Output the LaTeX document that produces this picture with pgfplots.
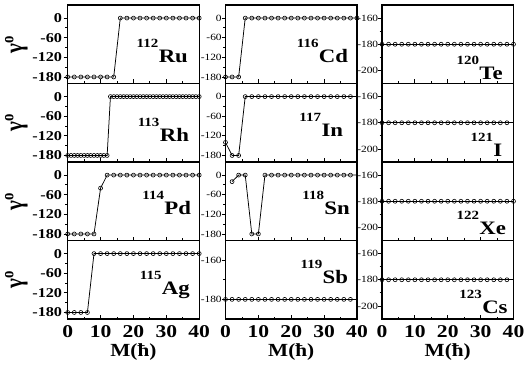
\documentclass[border=0pt]{standalone}
\usepackage{pgfplots}
\pgfplotsset{compat=1.18}
\usepackage{fontspec}
\setmainfont{Liberation Serif}
\newcommand{\lab}[2]{\raisebox{15pt}{\fontsize{12.5}{12.5}\selectfont #1}\kern0.3pt #2}
\pgfplotsset{
  pl/.style={black, line width=0.75pt, mark=o, mark size=2pt, mark options={solid, line width=0.6pt}},
  base/.style={
    scale only axis, width=131.5pt, height=78.5pt, anchor=south west,
    xmin=0, xmax=40, xtick={0,10,20,30,40}, minor x tick num=1,
    xtick pos=left, ytick pos=left, tick align=inside,
    major tick length=4pt, minor tick length=2.5pt,
    every major y tick/.append style={xshift=-4pt},
    every minor y tick/.append style={xshift=-2.5pt},
    axis line style={line width=1.3pt},
    every tick/.append style={black, line width=0.8pt},
    xticklabels={},
    clip=false,
  },
  c1/.style={base, ymin=-200, ymax=40, ytick={-180,-120,-60,0}, yticklabels={-180,-120,-60,0}, minor y tick num=1,
    yticklabel style={font=\bfseries\fontsize{13.5}{13.5}\selectfont, xscale=1.2, inner sep=0pt, xshift=-4.5pt}},
  c2/.style={base, ymin=-200, ymax=40, ytick={-180,-120,-60,0}, yticklabels={-180,-120,-60,0}, minor y tick num=1,
    yticklabel style={font=\fontsize{9.5}{9.5}\selectfont, xscale=1.2, inner sep=0pt, xshift=-3pt}},
  c2b/.style={base, ymin=-190, ymax=-150, ytick={-180,-160}, yticklabels={-180,-160}, minor y tick num=1,
    yticklabel style={font=\fontsize{9.5}{9.5}\selectfont, xscale=1.2, inner sep=0pt, xshift=-3pt}},
  c3/.style={base, ymin=-210, ymax=-150, ytick={-200,-180,-160}, yticklabels={-200,-180,-160}, minor y tick num=1,
    yticklabel style={font=\fontsize{9.5}{9.5}\selectfont, xscale=1.2, inner sep=0pt, xshift=-3pt}},
  bot/.style={xticklabels={0,10,20,30,40}, xticklabel style={font=\bfseries\fontsize{18}{18}\selectfont, xscale=1.2, inner sep=0pt, yshift=-6pt}},
}
\tikzset{
  nuc/.style={anchor=base east, font=\bfseries\fontsize{19}{19}\selectfont, xscale=1.2, inner sep=0pt},
  gam/.style={rotate=90, yscale=1.2, font=\bfseries\fontsize{21}{21}\selectfont, inner sep=0pt},
  mlab/.style={font=\bfseries\fontsize{18.5}{18.5}\selectfont, xscale=1.15, inner sep=0pt},
}
\begin{document}
\begin{tikzpicture}
\useasboundingbox (0pt,0pt) rectangle (524pt,367pt);
% ---------- column 1 ----------
\begin{axis}[c1, at={(67.7pt,283.5pt)}]
\addplot[pl] coordinates {(0,-180) (2,-180) (4,-180) (6,-180) (8,-180) (10,-180) (12,-180) (14,-180) (16,0) (18,0) (20,0) (22,0) (24,0) (26,0) (28,0) (30,0) (32,0) (34,0) (36,0) (38,0) (40,0)};
\node[nuc] at (rel axis cs:0.916,0.265) {\lab{112}{Ru}};
\node[gam] at (rel axis cs:-0.39,0.5) {γ\textsuperscript{o}};
\end{axis}
\begin{axis}[c1, at={(67.7pt,205pt)}]
\addplot[pl] coordinates {(0,-180) (1,-180) (2,-180) (3,-180) (4,-180) (5,-180) (6,-180) (7,-180) (8,-180) (9,-180) (10,-180) (11,-180) (12,-180) (13,0) (14,0) (15,0) (16,0) (17,0) (18,0) (19,0) (20,0) (21,0) (22,0) (23,0) (24,0) (25,0) (26,0) (27,0) (28,0) (29,0) (30,0) (31,0) (32,0) (33,0) (34,0) (35,0) (36,0) (37,0) (38,0) (39,0) (40,0)};
\node[nuc] at (rel axis cs:0.924,0.259) {\lab{113}{Rh}};
\node[gam] at (rel axis cs:-0.39,0.5) {γ\textsuperscript{o}};
\end{axis}
\begin{axis}[c1, at={(67.7pt,126.5pt)}]
\addplot[pl] coordinates {(0,-180) (2,-180) (4,-180) (6,-180) (8,-180) (10,-40) (12,0) (14,0) (16,0) (18,0) (20,0) (22,0) (24,0) (26,0) (28,0) (30,0) (32,0) (34,0) (36,0) (38,0) (40,0)};
\node[nuc] at (rel axis cs:0.94,0.325) {\lab{114}{Pd}};
\node[gam] at (rel axis cs:-0.39,0.5) {γ\textsuperscript{o}};
\end{axis}
\begin{axis}[c1, bot, at={(67.7pt,48pt)}]
\addplot[pl] coordinates {(0,-180) (2,-180) (4,-180) (6,-180) (8,0) (10,0) (12,0) (14,0) (16,0) (18,0) (20,0) (22,0) (24,0) (26,0) (28,0) (30,0) (32,0) (34,0) (36,0) (38,0) (40,0)};
\node[nuc] at (rel axis cs:0.93,0.306) {\lab{115}{Ag}};
\node[gam] at (rel axis cs:-0.39,0.5) {γ\textsuperscript{o}};
\node[mlab] at (rel axis cs:0.5,-0.42) {M(ħ)};
\end{axis}
% ---------- column 2 ----------
\begin{axis}[c2, at={(225.5pt,283.5pt)}]
\addplot[pl] coordinates {(0,-180) (2,-180) (4,-180) (6,0) (8,0) (10,0) (12,0) (14,0) (16,0) (18,0) (20,0) (22,0) (24,0) (26,0) (28,0) (30,0) (32,0) (34,0) (36,0) (38,0) (40,0)};
\node[nuc] at (rel axis cs:0.934,0.265) {\lab{116}{Cd}};
\end{axis}
\begin{axis}[c2, at={(225.5pt,205pt)}]
\addplot[pl, mark indices={1,...,20}] coordinates {(0,-140) (2,-180) (4,-180) (6,0) (8,0) (10,0) (12,0) (14,0) (16,0) (18,0) (20,0) (22,0) (24,0) (26,0) (28,0) (30,0) (32,0) (34,0) (36,0) (38,0) (40,0)};
\node[nuc] at (rel axis cs:0.896,0.322) {\lab{117}{In}};
\end{axis}
\begin{axis}[c2, at={(225.5pt,126.5pt)}]
\addplot[pl, mark indices={1,...,19}] coordinates {(2,-20) (4,0) (6,0) (8,-180) (10,-180) (12,0) (14,0) (16,0) (18,0) (20,0) (22,0) (24,0) (26,0) (28,0) (30,0) (32,0) (34,0) (36,0) (38,0) (40,0)};
\node[nuc] at (rel axis cs:0.947,0.325) {\lab{118}{Sn}};
\end{axis}
\begin{axis}[c2b, bot, at={(225.5pt,48pt)}]
\addplot[pl, mark indices={1,...,20}] coordinates {(0,-180) (2,-180) (4,-180) (6,-180) (8,-180) (10,-180) (12,-180) (14,-180) (16,-180) (18,-180) (20,-180) (22,-180) (24,-180) (26,-180) (28,-180) (30,-180) (32,-180) (34,-180) (36,-180) (38,-180) (40,-180)};
\node[nuc] at (rel axis cs:0.934,0.446) {\lab{119}{Sb}};
\node[mlab] at (rel axis cs:0.5,-0.42) {M(ħ)};
\end{axis}
% ---------- column 3 ----------
\begin{axis}[c3, at={(382pt,283.5pt)}]
\addplot[pl] coordinates {(0,-180) (2,-180) (4,-180) (6,-180) (8,-180) (10,-180) (12,-180) (14,-180) (16,-180) (18,-180) (20,-180) (22,-180) (24,-180) (26,-180) (28,-180) (30,-180) (32,-180) (34,-180) (36,-180) (38,-180) (40,-180)};
\node[nuc] at (rel axis cs:0.919,0.045) {\lab{120}{Te}};
\end{axis}
\begin{axis}[c3, at={(382pt,205pt)}]
\addplot[pl, mark indices={1,...,20}] coordinates {(0,-180) (2,-180) (4,-180) (6,-180) (8,-180) (10,-180) (12,-180) (14,-180) (16,-180) (18,-180) (20,-180) (22,-180) (24,-180) (26,-180) (28,-180) (30,-180) (32,-180) (34,-180) (36,-180) (38,-180) (40,-180)};
\node[nuc] at (rel axis cs:0.917,0.068) {\lab{121}{I}};
\end{axis}
\begin{axis}[c3, at={(382pt,126.5pt)}]
\addplot[pl] coordinates {(0,-180) (2,-180) (4,-180) (6,-180) (8,-180) (10,-180) (12,-180) (14,-180) (16,-180) (18,-180) (20,-180) (22,-180) (24,-180) (26,-180) (28,-180) (30,-180) (32,-180) (34,-180) (36,-180) (38,-180) (40,-180)};
\node[nuc] at (rel axis cs:0.945,0.079) {\lab{122}{Xe}};
\end{axis}
\begin{axis}[c3, bot, at={(382pt,48pt)}]
\addplot[pl, mark indices={1,...,20}] coordinates {(0,-180) (2,-180) (4,-180) (6,-180) (8,-180) (10,-180) (12,-180) (14,-180) (16,-180) (18,-180) (20,-180) (22,-180) (24,-180) (26,-180) (28,-180) (30,-180) (32,-180) (34,-180) (36,-180) (38,-180) (40,-180)};
\node[nuc] at (rel axis cs:0.957,0.073) {\lab{123}{Cs}};
\node[mlab] at (rel axis cs:0.5,-0.42) {M(ħ)};
\end{axis}
\end{tikzpicture}
\end{document}
